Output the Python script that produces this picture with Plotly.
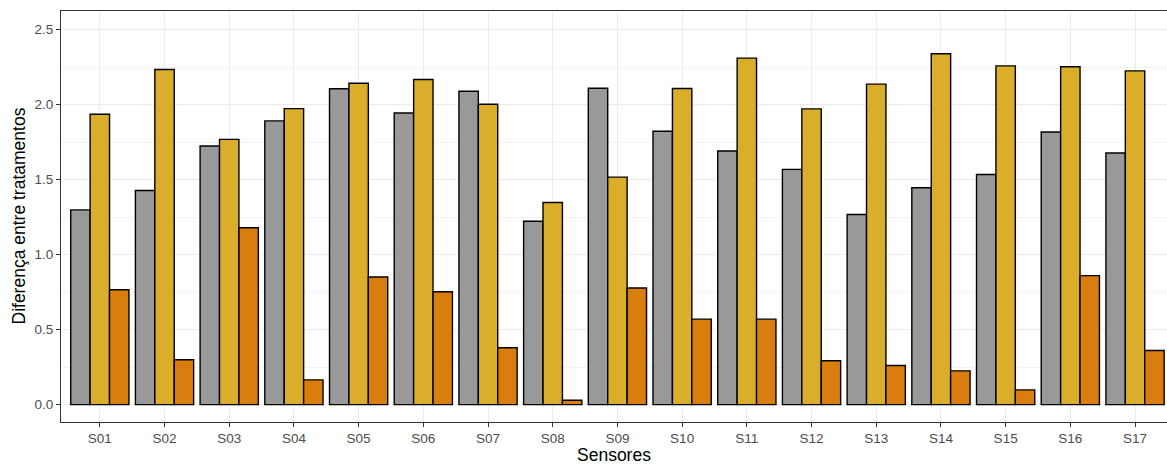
import plotly.graph_objects as go

sensores = ["S01", "S02", "S03", "S04", "S05", "S06", "S07", "S08", "S09",
            "S10", "S11", "S12", "S13", "S14", "S15", "S16", "S17"]
serie_cinza = [1.299, 1.428, 1.725, 1.892, 2.106, 1.945, 2.090, 1.223, 2.110,
               1.823, 1.691, 1.569, 1.268, 1.446, 1.535, 1.818, 1.678]
serie_ouro = [1.936, 2.235, 1.769, 1.974, 2.143, 2.168, 2.003, 1.348, 1.517,
              2.108, 2.311, 1.972, 2.137, 2.340, 2.259, 2.253, 2.226]
serie_laranja = [0.766, 0.299, 1.179, 0.165, 0.851, 0.753, 0.379, 0.029, 0.778,
                 0.570, 0.570, 0.292, 0.261, 0.225, 0.098, 0.860, 0.361]
y_ticks = [0.0, 0.5, 1.0, 1.5, 2.0, 2.5]

cores = ["#999999", "#DAAE2B", "#D97E0E"]
series = [("A", serie_cinza), ("B", serie_ouro), ("C", serie_laranja)]

fig = go.Figure()
for (nome, vals), cor in zip(series, cores):
    fig.add_trace(go.Bar(
        x=sensores, y=vals, name=nome,
        marker=dict(color=cor, line=dict(color="black", width=1.4)),
    ))

font_family = "Liberation Sans, Arial, sans-serif"
fig.update_layout(
    width=1167, height=466,
    margin=dict(l=61, r=0, t=11, b=44),
    barmode="group", bargap=0.1, bargroupgap=0,
    showlegend=False,
    plot_bgcolor="white", paper_bgcolor="white",
    font=dict(family=font_family, size=13.5, color="#4D4D4D"),
)
fig.update_xaxes(
    range=[-0.6, 16.494],
    showgrid=True, gridcolor="#EBEBEB", gridwidth=1.2,
    showline=True, linecolor="#333333", linewidth=1, mirror=True,
    ticks="outside", ticklen=4, tickcolor="#333333", tickwidth=1,
    tickfont=dict(family=font_family, size=13.5, color="#4D4D4D"),
    zeroline=False,
)
fig.update_yaxes(
    range=[-0.116, 2.625],
    tickvals=y_ticks, tickformat=".1f",
    showgrid=True, gridcolor="#EBEBEB", gridwidth=1.2,
    minor=dict(dtick=0.25, tick0=0, showgrid=True, gridcolor="#F2F2F2", gridwidth=0.7),
    showline=True, linecolor="#333333", linewidth=1, mirror=False,
    ticks="outside", ticklen=4, tickcolor="#333333", tickwidth=1,
    tickfont=dict(family=font_family, size=13.5, color="#4D4D4D"),
    zeroline=False,
)
fig.add_annotation(text="Sensores", xref="paper", yref="paper",
                   x=0.5, y=0, yshift=-33, xanchor="center", yanchor="middle",
                   showarrow=False, font=dict(family=font_family, size=17.5, color="black"))
fig.add_annotation(text="Diferença entre tratamentos", xref="paper", yref="paper",
                   x=0, xshift=-43, y=0.5, xanchor="center", yanchor="middle",
                   textangle=-90, showarrow=False,
                   font=dict(family=font_family, size=17.5, color="black"))
fig.write_html("out.html",
               config={"displayModeBar": False},
               post_script="document.body.style.margin='0';document.body.style.overflow='hidden';")
